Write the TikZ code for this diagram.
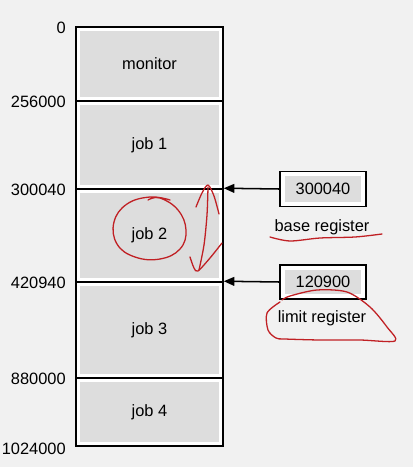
\documentclass[tikz,border=0pt]{standalone}
\usepackage{fontspec}
\setmainfont{Liberation Sans}
\usetikzlibrary{arrows.meta, positioning}
\definecolor{pagebg}{RGB}{241,241,241}
\definecolor{cellgray}{RGB}{221,221,221}
\definecolor{penred}{RGB}{192,32,36}
\tikzset{
  txt/.style={font=\fontsize{14}{16}\selectfont},
  graybox/.style={rectangle, draw=black, line width=1.3pt, fill=white, inner sep=0pt, txt,
    path picture={\fill[cellgray]
      ([shift={(#1,-#1)}]path picture bounding box.north west) rectangle
      ([shift={(-#1,#1)}]path picture bounding box.south east);}},
  memcell/.style={graybox=3.8pt, minimum width=4.41cm},
  regbox/.style={graybox=4.4pt, minimum width=2.58cm, minimum height=1.06cm},
  addr/.style={txt, inner sep=0pt, yshift=-1.5pt},
  reglabel/.style={txt, inner sep=0pt},
  ptr/.style={-{Triangle[length=9pt, width=7.5pt]}, line width=1.3pt},
  pen/.style={draw=penred, line width=1.1pt, line cap=round, line join=round},
}

\begin{document}
\begin{tikzpicture}[x=0.03cm, y=-0.03cm]
  \useasboundingbox (0,0) rectangle (413,467);
  \fill[pagebg] (0,0) rectangle (413,467);

  % Memory column (explicit absolute positions)
  \node[memcell, minimum height=2.22cm] (monitor) at (149.5,64)  {monitor};
  \node[memcell, minimum height=2.64cm] (job1)    at (149.5,145) {job 1};
  \node[memcell, minimum height=2.79cm] (job2)    at (149.5,235.5) {job 2};
  \node[memcell, minimum height=2.88cm] (job3)    at (149.5,330) {job 3};
  \node[memcell, minimum height=2.04cm] (job4)    at (149.5,412) {job 4};

  % Addresses
  \node[addr, left=0.28cm of monitor.north west] (a0) {0};
  \node[addr, left=0.28cm of job1.north west] (a1) {256000};
  \node[addr, left=0.28cm of job2.north west] (a2) {300040};
  \node[addr, left=0.28cm of job3.north west] (a3) {420940};
  \node[addr, left=0.28cm of job4.north west] (a4) {880000};
  \node[addr, left=0.28cm of job4.south west] (a5) {1024000};

  % Registers
  \node[regbox] (base)  at (323,189) {300040};
  \node[regbox, minimum height=1.02cm] (limit) at (323,282) {120900};
  \node[reglabel] (baselbl)  at (322,227) {base register};
  \node[reglabel] (limitlbl) at (322,318) {limit register};

  % Arrows
  \draw[ptr] (base.west) -- (job2.north east);
  \draw[ptr] (limit.west) -- (job3.north east);

  % Red pen marks
  \draw[pen] plot[smooth, tension=0.7] coordinates {(170,200) (150,197) (127,204)
    (114,222) (117,244) (135,257) (160,259) (180,249) (186,230) (178,210) (160,198) (148,200)};
  \draw[pen] plot[smooth] coordinates {(196,207) (202,193) (208,185) (214,196) (219,214)};
  \draw[pen] plot[smooth] coordinates {(208,187) (207,215) (204,245) (199,270)};
  \draw[pen] plot[smooth] coordinates {(190,257) (194,268) (198,271) (210,258) (222,243)};
  \draw[pen] plot[smooth] coordinates {(270,237) (290,241) (320,238) (355,237) (382,234)};
  \draw[pen] plot[smooth] coordinates {(282,300) (290,296) (317,290) (347,292) (370,307)
    (387,327) (395,341) (360,340) (320,340) (285,339) (276,338) (268,330) (267,313) (280,302)};
\end{tikzpicture}
\end{document}
